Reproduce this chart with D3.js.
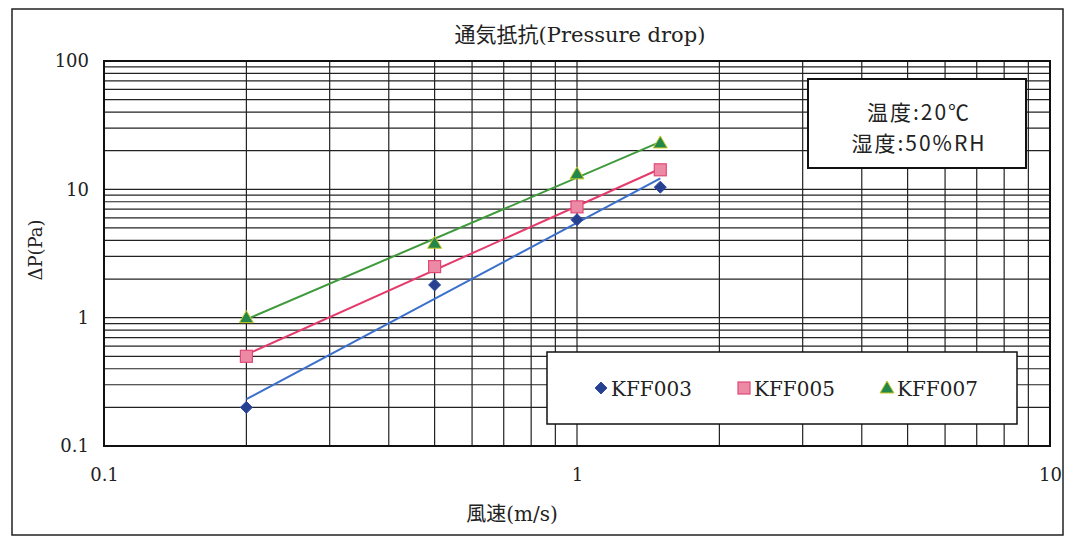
<!DOCTYPE html>
<html>
<head>
<meta charset="utf-8">
<script src="https://cdn.jsdelivr.net/npm/d3@7"></script>
<style>
  html, body { margin: 0; padding: 0; background: #fff; }
  svg { display: block; }
</style>
</head>
<body>
<svg id="chart" width="1078" height="537"></svg>
<script>
// ---- data ----
const airSpeed = [0.2, 0.5, 1.0, 1.5];           // 風速 (m/s)
const seriesNames = ["KFF003", "KFF005", "KFF007"];
const kff003 = [0.2, 1.8, 5.8, 10.4];             // ΔP (Pa)
const kff005 = [0.5, 2.5, 7.3, 14.2];
const kff007 = [1.0, 3.8, 13.2, 23.0];
const xTickLabels = [0.1, 1, 10];
const yTickLabels = [0.1, 1, 10, 100];
const titleText = "通気抵抗(Pressure drop)";
const xLabel = "風速(m/s)";
const yLabel = "ΔP(Pa)";
const noteLines = ["温度:20℃", "湿度:50%RH"];

const seriesValues = [kff003, kff005, kff007];
const serif = "'DejaVu Serif', 'Liberation Serif', 'Noto Sans CJK JP', serif";
const cjk = "'Noto Sans CJK JP', 'DejaVu Sans', sans-serif";

const styles = [
  { marker: "diamond", fill: "#27408f", stroke: "#2b4aa6", line: "#3a6fcc" },
  { marker: "square", fill: "#ec8aa5", stroke: "#e04a78", line: "#e43a6c" },
  { marker: "triangle", fill: "#23864a", stroke: "#c8c820", line: "#3f9a3c" }
];

const svg = d3.select("#chart");
const L = 104, R = 1050, T = 61, B = 446;
const x = d3.scaleLog().domain([0.1, 10]).range([L, R]);
const y = d3.scaleLog().domain([0.1, 100]).range([B, T]);

// outer frame
svg.append("rect").attr("x", 12).attr("y", 9).attr("width", 1051).attr("height", 526)
  .attr("fill", "#fff").attr("stroke", "#222").attr("stroke-width", 1.5);

// title
svg.append("text").attr("x", 580).attr("y", 42).attr("text-anchor", "middle")
  .attr("font-family", serif).attr("font-size", 21).attr("fill", "#222").text(titleText);

// gridlines
const grid = svg.append("g").attr("stroke", "#222").attr("stroke-width", 1.2);
grid.selectAll("line.h").data(y.ticks()).join("line").attr("class", "h")
  .attr("x1", L).attr("x2", R).attr("y1", d => y(d)).attr("y2", d => y(d));
grid.selectAll("line.v").data(x.ticks()).join("line").attr("class", "v")
  .attr("y1", T).attr("y2", B).attr("x1", d => x(d)).attr("x2", d => x(d));
svg.append("rect").attr("x", L).attr("y", T).attr("width", R - L).attr("height", B - T)
  .attr("fill", "none").attr("stroke", "#111").attr("stroke-width", 2);

// axes labels via d3 axes
const yAxis = d3.axisLeft(y).tickValues(yTickLabels).tickSize(0).tickPadding(15)
  .tickFormat(d => String(d));
const gy = svg.append("g").attr("transform", `translate(${L},0)`).call(yAxis);
gy.select(".domain").remove();
gy.selectAll("text").attr("font-family", serif).attr("font-size", 18).attr("fill", "#222");

const xAxis = d3.axisBottom(x).tickValues(xTickLabels).tickSize(0).tickPadding(22)
  .tickFormat(d => String(d));
const gx = svg.append("g").attr("transform", `translate(0,${B})`).call(xAxis);
gx.select(".domain").remove();
gx.selectAll("text").attr("font-family", serif).attr("font-size", 18).attr("fill", "#222");

svg.append("text").attr("x", 512).attr("y", 521).attr("text-anchor", "middle")
  .attr("font-family", serif).attr("font-size", 20).attr("fill", "#222").text(xLabel);
svg.append("text").attr("transform", "translate(42,250) rotate(-90)").attr("text-anchor", "middle")
  .attr("font-family", serif).attr("font-size", 18).attr("fill", "#222").text(yLabel);

// power-law trend lines (least squares in log-log space), like the spreadsheet's trendlines
function powerFit(xs, ys) {
  const lx = xs.map(Math.log10), ly = ys.map(Math.log10);
  const mx = d3.mean(lx), my = d3.mean(ly);
  const b = d3.sum(lx, (v, i) => (v - mx) * (ly[i] - my)) / d3.sum(lx, v => (v - mx) ** 2);
  const a = my - b * mx;
  return v => Math.pow(10, a + b * Math.log10(v));
}

const plot = svg.append("g");
seriesValues.forEach((vals, i) => {
  const f = powerFit(airSpeed, vals);
  const x0 = d3.min(airSpeed), x1 = d3.max(airSpeed);
  plot.append("line")
    .attr("x1", x(x0)).attr("y1", y(f(x0))).attr("x2", x(x1)).attr("y2", y(f(x1)))
    .attr("stroke", styles[i].line).attr("stroke-width", 2);
});

function drawMarker(g, type, cx, cy, st) {
  if (type === "diamond") {
    g.append("path").attr("d", `M${cx},${cy - 6}L${cx + 6},${cy}L${cx},${cy + 6}L${cx - 6},${cy}Z`)
      .attr("fill", st.fill).attr("stroke", st.stroke).attr("stroke-width", 1);
  } else if (type === "square") {
    g.append("rect").attr("x", cx - 6).attr("y", cy - 6).attr("width", 12).attr("height", 12)
      .attr("fill", st.fill).attr("stroke", st.stroke).attr("stroke-width", 1.2);
  } else {
    g.append("path").attr("d", `M${cx},${cy - 7}L${cx + 7},${cy + 5}L${cx - 7},${cy + 5}Z`)
      .attr("fill", st.fill).attr("stroke", st.stroke).attr("stroke-width", 1);
  }
}

seriesValues.forEach((vals, i) => {
  vals.forEach((v, j) => drawMarker(plot, styles[i].marker, x(airSpeed[j]), y(v), styles[i]));
});

// note box
const nb = svg.append("g");
nb.append("rect").attr("x", 808).attr("y", 79).attr("width", 218).attr("height", 89)
  .attr("fill", "#fff").attr("stroke", "#111").attr("stroke-width", 2);
noteLines.forEach((t, i) => {
  nb.append("text").attr("x", 919).attr("y", 120 + i * 31).attr("text-anchor", "middle")
    .attr("font-family", cjk).attr("font-size", 21).attr("letter-spacing", 2)
    .attr("fill", "#222").text(t);
});

// legend
const lg = svg.append("g");
lg.append("rect").attr("x", 547).attr("y", 352).attr("width", 470).attr("height", 72)
  .attr("fill", "#fff").attr("stroke", "#111").attr("stroke-width", 1.5);
const legendX = [601, 744, 887];
seriesNames.forEach((name, i) => {
  drawMarker(lg, styles[i].marker, legendX[i], 388, styles[i]);
  lg.append("text").attr("x", legendX[i] + 10).attr("y", 396)
    .attr("font-family", serif).attr("font-size", 20).attr("fill", "#222").text(name);
});
</script>
</body>
</html>
